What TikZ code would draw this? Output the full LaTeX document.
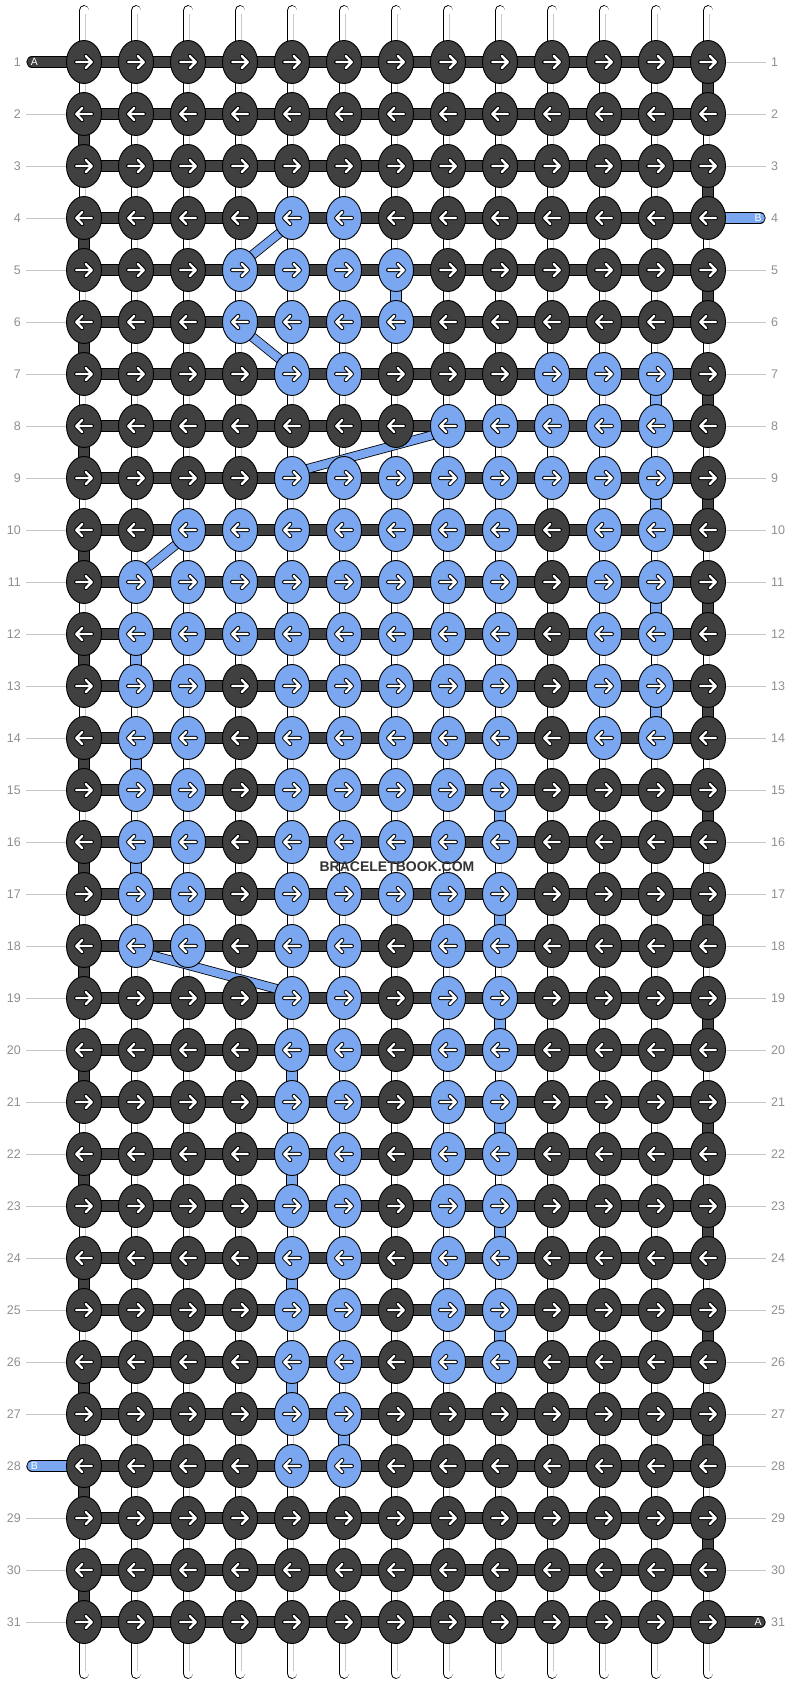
\documentclass[tikz,border=0pt]{standalone}
\usepackage{fontspec}
\setmainfont{Liberation Sans}
\usetikzlibrary{shapes.geometric}
\definecolor{darkK}{HTML}{404040}
\definecolor{blueK}{HTML}{7AA7EF}
\definecolor{labgray}{HTML}{8F8F8F}
\definecolor{linegray}{HTML}{C6C6C6}
\definecolor{stripeg}{HTML}{C8C8C8}
\definecolor{wmark}{HTML}{333333}
\pgfdeclarelayer{bg}
\pgfdeclarelayer{mid}
\pgfsetlayers{bg,mid,main}
\tikzset{
  knot/.style={ellipse, draw=black, line width=0.9pt, minimum width=35pt, minimum height=43pt, inner sep=0pt, outer sep=0pt},
  tube/.style={draw=black, line width=0.9pt, double=white, double distance=9pt, line cap=round},
  stripe/.style={draw=stripeg, line width=0.6pt, double=white, double distance=1.8pt},
  darkbar/.style={draw=black, line width=0.9pt, double=darkK, double distance=9.5pt},
  bluebar/.style={draw=black, line width=0.9pt, double=blueK, double distance=9.5pt},
  diagbar/.style={draw=black, line width=0.8pt, double=blueK, double distance=8pt},
  labline/.style={draw=linegray, line width=0.9pt},
  rowlab/.style={text=labgray, font=\fontsize{12.5pt}{12.5pt}\selectfont, inner sep=0pt},
  endlab/.style={text=white, font=\fontsize{10.5pt}{10.5pt}\selectfont, inner sep=0pt},
  arr/.pic={
    \draw[black, line width=4.2pt, line cap=round, line join=round] (-7.8,0) -- (7.8,0) (1.8,-6) -- (7.8,0) -- (1.8,6);
    \draw[white, line width=2.4pt, line cap=round, line join=round] (-7.8,0) -- (7.8,0) (1.8,-6) -- (7.8,0) -- (1.8,6);
  }
}
\begin{document}
\begin{tikzpicture}[x=1pt,y=-1pt]
\useasboundingbox (0,0) rectangle (792,1684);
% which knots are blue
\foreach \r/\bl in {4/{5,6},5/{4,5,6,7},6/{4,5,6,7},7/{5,6,10,11,12},8/{8,9,10,11,12},
  9/{5,6,7,8,9,10,11,12},10/{3,4,5,6,7,8,9,11,12},11/{2,3,4,5,6,7,8,9,11,12},
  12/{2,3,4,5,6,7,8,9,11,12},13/{2,3,5,6,7,8,9,11,12},14/{2,3,5,6,7,8,9,11,12},
  15/{2,3,5,6,7,8,9},16/{2,3,5,6,7,8,9},17/{2,3,5,6,7,8,9},18/{2,3,5,6,8,9},
  19/{5,6,8,9},20/{5,6,8,9},21/{5,6,8,9},22/{5,6,8,9},23/{5,6,8,9},24/{5,6,8,9},
  25/{5,6,8,9},26/{5,6,8,9},27/{5,6},28/{5,6}}
  {\foreach \c in \bl {\expandafter\gdef\csname bk-\r-\c\endcsname{}}}
% knots
\foreach \r in {1,...,31}{
  \foreach \c in {1,...,13}{
    \ifcsname bk-\r-\c\endcsname\def\kfill{blueK}\else\def\kfill{darkK}\fi
    \node[knot, fill=\kfill] (k-\r-\c) at ({84+52*(\c-1)},{62+52*(\r-1)}) {};
    \ifodd\r\relax
      \pic at (k-\r-\c.center) {arr};
    \else
      \pic[xscale=-1] at (k-\r-\c.center) {arr};
    \fi
  }
}
% row labels
\foreach \r in {1,...,31}{
  \node[rowlab, anchor=east] (ll-\r) at (21,{62+52*(\r-1)}) {\r};
  \node[rowlab, anchor=west] (lr-\r) at (771,{62+52*(\r-1)}) {\r};
}
\begin{pgfonlayer}{bg}
  \fill[white] (0,0) rectangle (792,1684);
  % label lines
  \foreach \r in {2,3,...,27,29,30,31}{
    \coordinate (gl-\r) at (26,{62+52*(\r-1)});
    \draw[labline] (gl-\r) -- (k-\r-1.west);
  }
  \foreach \r in {1,2,3,5,6,...,30}{
    \coordinate (gr-\r) at (766,{62+52*(\r-1)});
    \draw[labline] (k-\r-13.east) -- (gr-\r);
  }
  % vertical tubes
  \foreach \c in {1,...,13}{
    \coordinate (tt-\c) at ({84+52*(\c-1)},10.5);
    \coordinate (tb-\c) at ({84+52*(\c-1)},1673.5);
    \draw[tube] (tt-\c) -- (tb-\c);
    \draw[stripe] ([yshift=-3pt]tt-\c) -- ([yshift=3pt]tb-\c);
  }
  % turns of the dark thread at the edges
  \foreach \r in {1,3,...,29}{
    \pgfmathtruncatemacro\rn{\r+1}
    \draw[darkbar] (k-\r-13.center) -- (k-\rn-13.center);
  }
  \foreach \r in {2,4,...,30}{
    \pgfmathtruncatemacro\rn{\r+1}
    \draw[darkbar] (k-\r-1.center) -- (k-\rn-1.center);
  }
  % turns of the blue thread
  \foreach \r/\c in {5/7,7/12,9/12,11/12,12/2,13/12,14/2,15/9,16/2,17/9,19/9,20/5,21/9,22/5,23/9,24/5,25/9,26/5,27/6}{
    \pgfmathtruncatemacro\rn{\r+1}
    \draw[bluebar] (k-\r-\c.center) -- (k-\rn-\c.center);
  }
  % rows
  \foreach \r in {1,...,31}{
    \draw[darkbar] (k-\r-1.center) -- (k-\r-13.center);
  }
  % thread ends
  \coordinate (endA1) at (32,62);
  \coordinate (endB4) at (760,218);
  \coordinate (endB28) at (32,1466);
  \coordinate (endA31) at (760,1622);
  \draw[darkbar, line cap=round] (endA1) -- (k-1-1.center);
  \draw[bluebar, line cap=round] (k-4-13.center) -- (endB4);
  \draw[bluebar, line cap=round] (endB28) -- (k-28-1.center);
  \draw[darkbar, line cap=round] (k-31-13.center) -- (endA31);
\end{pgfonlayer}
\node[endlab] (tA1) at (34.5,62) {A};
\node[endlab] (tB4) at (758,218) {B};
\node[endlab] (tB28) at (34.5,1466) {B};
\node[endlab] (tA31) at (758,1622) {A};
% diagonal jumps of the blue thread
\begin{pgfonlayer}{mid}
  \draw[diagbar] ([yshift=-5pt]k-4-5.center) -- ([yshift=5pt]k-5-4.center);
  \draw[diagbar] ([yshift=-5pt]k-6-4.center) -- ([yshift=5pt]k-7-5.center);
  \draw[diagbar] ([yshift=-5pt]k-8-8.center) -- ([yshift=5pt]k-9-5.center);
  \draw[diagbar] ([yshift=-5pt]k-10-3.center) -- ([yshift=5pt]k-11-2.center);
  \draw[diagbar] ([yshift=-5pt]k-18-2.center) -- ([yshift=5pt]k-19-5.center);
\end{pgfonlayer}
% watermark
\node[text=wmark, font=\bfseries\fontsize{14pt}{14pt}\selectfont, inner sep=0pt] (wm) at (397,867) {BRACELETBOOK.COM};
\end{tikzpicture}
\end{document}
